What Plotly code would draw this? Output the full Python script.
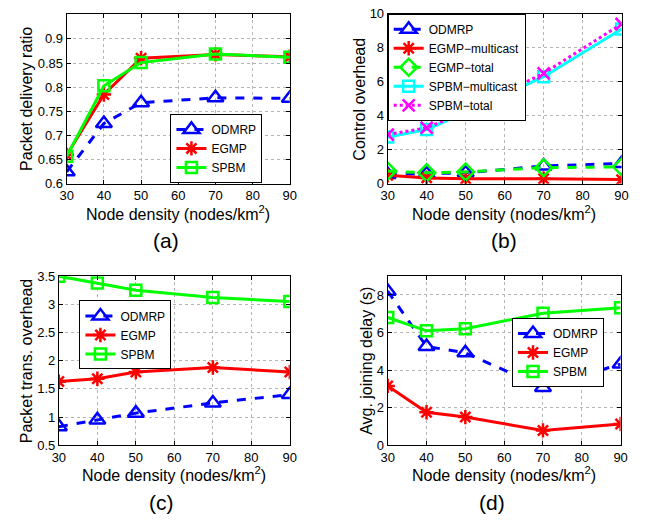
import plotly.graph_objects as go

# ---------------- data ----------------
node_density = [30, 40, 50, 70, 90]

# (a) packet delivery ratio
pdr_odmrp = [0.625, 0.725, 0.768, 0.778, 0.777]
pdr_egmp = [0.660, 0.785, 0.860, 0.868, 0.863]
pdr_spbm = [0.657, 0.803, 0.851, 0.869, 0.862]

# (b) control overhead
co_odmrp = [0.55, 0.60, 0.65, 1.05, 1.20]
co_egmp_multicast = [0.50, 0.35, 0.30, 0.30, 0.25]
co_egmp_total = [0.75, 0.65, 0.70, 0.95, 1.00]
co_spbm_multicast = [2.75, 3.20, 4.20, 6.30, 9.10]
co_spbm_total = [2.90, 3.30, 4.25, 6.50, 9.40]

# (c) packet transmission overhead
pto_odmrp = [0.83, 0.95, 1.07, 1.25, 1.40]
pto_egmp = [1.63, 1.68, 1.80, 1.88, 1.80]
pto_spbm = [3.50, 3.38, 3.25, 3.12, 3.05]

# (d) average joining delay
ajd_odmrp = [8.20, 5.26, 4.92, 3.08, 4.32]
ajd_egmp = [3.16, 1.76, 1.50, 0.79, 1.13]
ajd_spbm = [6.80, 6.09, 6.20, 7.03, 7.32]

x_ticks = [30, 40, 50, 60, 70, 80, 90]
ya_ticks = [0.6, 0.65, 0.7, 0.75, 0.8, 0.85, 0.9]
ya_labels = ["0.6", "0.65", "0.7", "0.75", "0.8", "0.85", "0.9"]
yb_ticks = [0, 2, 4, 6, 8, 10]
yc_ticks = [0.5, 1, 1.5, 2, 2.5, 3, 3.5]
yc_labels = ["0.5", "1", "1.5", "2", "2.5", "3", "3.5"]
yd_ticks = [0, 2, 4, 6, 8]

x_title = "Node density (nodes/km<sup>2</sup>)"
y_titles = ["Packet delivery ratio", "Control overhead",
            "Packet trans. overhead", "Avg. joining delay (s)"]
panel_labels = ["(a)", "(b)", "(c)", "(d)"]

BLUE = "#0000ff"
RED = "#ff0000"
GREEN = "#00ff00"
CYAN = "#00ffff"
MAGENTA = "#ff00ff"

fig = go.Figure()


def add(x, y, name, color, symbol, dash, xa, ya, legend, msize=12):
    fig.add_trace(go.Scatter(
        x=x, y=y, name=name, mode="lines+markers",
        line=dict(color=color, width=3, dash=dash),
        marker=dict(symbol=symbol, size=msize, color=color,
                    line=dict(color=color, width=2.5)),
        xaxis=xa, yaxis=ya, legend=legend,
    ))


# (a)
add(node_density, pdr_odmrp, "ODMRP", BLUE, "triangle-up-open", "dash", "x", "y", "legend", 14)
add(node_density, pdr_egmp, "EGMP", RED, "asterisk-open", "solid", "x", "y", "legend")
add(node_density, pdr_spbm, "SPBM", GREEN, "square-open", "solid", "x", "y", "legend", 11)
# (b)
add(node_density, co_odmrp, "ODMRP", BLUE, "triangle-up-open", "dash", "x2", "y2", "legend2", 14)
add(node_density, co_egmp_multicast, "EGMP\u2212multicast", RED, "asterisk-open", "solid", "x2", "y2", "legend2")
add(node_density, co_egmp_total, "EGMP\u2212total", GREEN, "diamond-open", "dash", "x2", "y2", "legend2", 13)
add(node_density, co_spbm_multicast, "SPBM\u2212multicast", CYAN, "square-open", "solid", "x2", "y2", "legend2", 11)
add(node_density, co_spbm_total, "SPBM\u2212total", MAGENTA, "x-thin-open", "dot", "x2", "y2", "legend2")
# (c)
add(node_density, pto_odmrp, "ODMRP", BLUE, "triangle-up-open", "dash", "x3", "y3", "legend3", 14)
add(node_density, pto_egmp, "EGMP", RED, "asterisk-open", "solid", "x3", "y3", "legend3")
add(node_density, pto_spbm, "SPBM", GREEN, "square-open", "solid", "x3", "y3", "legend3", 11)
# (d)
add(node_density, ajd_odmrp, "ODMRP", BLUE, "triangle-up-open", "dash", "x4", "y4", "legend4", 14)
add(node_density, ajd_egmp, "EGMP", RED, "asterisk-open", "solid", "x4", "y4", "legend4")
add(node_density, ajd_spbm, "SPBM", GREEN, "square-open", "solid", "x4", "y4", "legend4", 11)

FONT = "Liberation Sans, Arial, sans-serif"
TICKFONT = dict(family=FONT, size=13, color="black")

common = dict(
    showline=True, linecolor="black", linewidth=1, mirror="ticks",
    ticks="inside", ticklen=4, tickcolor="black",
    showgrid=True, gridcolor="#b5b5b5", griddash="dot", gridwidth=1,
    zeroline=False, tickfont=TICKFONT,
)


def xax(domain, anchor):
    return dict(common, domain=domain, anchor=anchor, range=[30, 90], tickvals=x_ticks)


def yax(domain, anchor, rng, tv, tt):
    return dict(common, domain=domain, anchor=anchor, range=rng, tickvals=tv, ticktext=tt)


W, H = 656, 531
xa_dom = [61 / W, 289 / W]
xb_dom = [389 / W, 628 / W]
xc_dom = [53 / W, 289 / W]
xd_dom = [389 / W, 627 / W]
y_top = [1 - 182 / H, 1 - 7 / H]
y_bot = [1 - 451 / H, 1 - 277 / H]

legend_common = dict(bgcolor="white", bordercolor="black", borderwidth=1,
                     font=dict(family=FONT, size=12, color="black"),
                     xanchor="left", yanchor="top", tracegroupgap=0,
                     itemwidth=30)

fig.update_layout(
    width=W, height=H,
    margin=dict(l=0, r=0, t=0, b=0),
    paper_bgcolor="white", plot_bgcolor="white",
    showlegend=True,
    xaxis=xax(xa_dom, "y"),
    yaxis=yax(y_top, "x", [0.6, 0.952], ya_ticks, ya_labels),
    xaxis2=xax(xb_dom, "y2"),
    yaxis2=yax(y_top, "x2", [0, 10], yb_ticks, [str(v) for v in yb_ticks]),
    xaxis3=xax(xc_dom, "y3"),
    yaxis3=yax(y_bot, "x3", [0.5, 3.5], yc_ticks, yc_labels),
    xaxis4=xax(xd_dom, "y4"),
    yaxis4=yax(y_bot, "x4", [0, 9], yd_ticks, [str(v) for v in yd_ticks]),
    legend=dict(legend_common, x=167 / W, y=1 - 110 / H),
    legend2=dict(legend_common, x=389 / W, y=1 - 7 / H),
    legend3=dict(legend_common, x=74 / W, y=1 - 302 / H),
    legend4=dict(legend_common, x=516 / W, y=1 - 320 / H),
)


def ann(text, px, py, size, angle=0):
    fig.add_annotation(text=text, x=px / W, y=1 - py / H, xref="paper", yref="paper",
                       showarrow=False, textangle=angle,
                       font=dict(family=FONT, size=size, color="black"),
                       xanchor="center", yanchor="middle")


# axis titles
x_title_pos = [(175, 212), (508, 212), (171, 481), (508, 481)]
y_title_pos = [(20, 95), (360, 95), (20, 364), (368, 364)]
for (px, py) in x_title_pos:
    ann(x_title, px, py, 16)
for t, (px, py) in zip(y_titles, y_title_pos):
    ann(t, px, py, 16, -90)

# panel labels
panel_pos = [(162, 240), (508, 240), (158, 510), (496, 510)]
for lab, (px, py) in zip(panel_labels, panel_pos):
    ann(lab, px, py, 21)

fig.write_html("out.html", config={"displayModeBar": False},
               post_script="document.body.style.margin='0';")
